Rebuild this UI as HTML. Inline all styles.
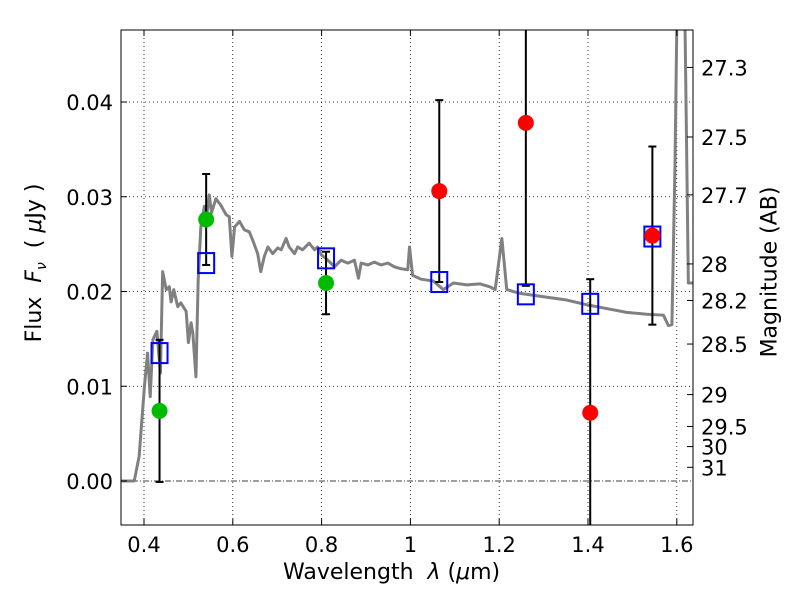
<!DOCTYPE html>
<html><head><meta charset="utf-8"><style>
body{margin:0;background:#fff;}
svg text{font-family:"DejaVu Sans","Liberation Sans",sans-serif;fill:#000;}
</style></head><body>
<svg id="chart" width="800" height="600" xmlns="http://www.w3.org/2000/svg"></svg>
<script>
const xTicks=[0.4,0.6,0.8,1,1.2,1.4,1.6];
const xTickLabels=["0.4","0.6","0.8","1","1.2","1.4","1.6"];
const yTicks=[0,0.01,0.02,0.03,0.04];
const yTickLabels=["0.00","0.01","0.02","0.03","0.04"];
const magTicks=[27.3,27.5,27.7,28,28.2,28.5,29,29.5,30,31];
const magLabels=["27.3","27.5","27.7","28","28.2","28.5","29","29.5","30","31"];
const sedWave=[0.348,0.378,0.389,0.401,0.408,0.414,0.420,0.429,0.437,0.442,0.450,0.457,0.461,0.467,0.476,0.483,0.495,0.500,0.506,0.510,0.517,0.522,0.528,0.536,0.542,0.547,0.552,0.562,0.573,0.585,0.592,0.598,0.604,0.615,0.626,0.637,0.645,0.656,0.663,0.671,0.679,0.690,0.701,0.709,0.720,0.727,0.739,0.746,0.757,0.772,0.784,0.791,0.799,0.814,0.829,0.844,0.859,0.874,0.883,0.889,0.904,0.919,0.934,0.949,0.964,0.979,0.994,0.998,1.005,1.024,1.052,1.074,1.097,1.127,1.157,1.179,1.191,1.206,1.217,1.247,1.292,1.352,1.397,1.442,1.487,1.532,1.570,1.581,1.589,1.596,1.600,1.604,1.614,1.618,1.626,1.640];
const sedFlux=[0,0,0.0026,0.0100,0.0135,0.0089,0.0149,0.0158,0.0114,0.0221,0.0202,0.0205,0.0189,0.0202,0.0184,0.0188,0.0179,0.0146,0.0167,0.0156,0.0110,0.0212,0.0268,0.0290,0.0283,0.0302,0.0283,0.0298,0.0291,0.0281,0.0279,0.0237,0.0268,0.0274,0.0265,0.0263,0.0254,0.0240,0.0221,0.0237,0.0247,0.0240,0.0246,0.0244,0.0256,0.0247,0.0240,0.0247,0.0244,0.0251,0.0244,0.0247,0.0239,0.0233,0.0226,0.0233,0.0230,0.0233,0.0214,0.0230,0.0228,0.0231,0.0228,0.0230,0.0226,0.0224,0.0223,0.0247,0.0217,0.0213,0.0211,0.0202,0.0209,0.0207,0.0208,0.0205,0.0202,0.0256,0.0202,0.0198,0.0195,0.0191,0.0186,0.0182,0.0178,0.0176,0.0175,0.0164,0.0165,0.0335,0.0480,0.060,0.060,0.0500,0.0209,0.0209];
const modelWave=[0.435,0.54,0.81,1.065,1.26,1.405,1.545];
const modelFlux=[0.0135,0.0230,0.0235,0.0210,0.0197,0.0187,0.0258];
const obsWave=[0.435,0.54,0.81,1.065,1.26,1.405,1.545];
const obsFlux=[0.0074,0.0276,0.0209,0.0306,0.0378,0.0072,0.0259];
const obsErr=[0.0075,0.0048,0.0033,0.0096,0.0172,0.0141,0.0094];
const obsColor=["#00bb00","#00bb00","#00bb00","#ff0000","#ff0000","#ff0000","#ff0000"];

const L=121,R=693,T=30,B=525;
const xS=v=>144+(v-0.4)*444;
const yS=v=>481-v*9475;
const NS="http://www.w3.org/2000/svg";
const svg=document.getElementById('chart');
function mk(tag,attrs,parent){const e=document.createElementNS(NS,tag);for(const k in attrs)e.setAttribute(k,attrs[k]);(parent||svg).appendChild(e);return e;}
const defs=mk('defs',{});const cp=mk('clipPath',{id:'clip'},defs);mk('rect',{x:L,y:T,width:R-L,height:B-T},cp);
const plot=mk('g',{'clip-path':'url(#clip)'});


xTicks.forEach(v=>{const l=mk('line',{x1:xS(v),x2:xS(v),y1:T,y2:B,stroke:'#000','stroke-width':0.8,'stroke-dasharray':'1,3'},plot);

});
yTicks.forEach(v=>{if(v===0)return;const l=mk('line',{x1:L,x2:R,y1:yS(v),y2:yS(v),stroke:'#000','stroke-width':0.8,'stroke-dasharray':'1,3'},plot);

});
const zl=mk('line',{x1:L,x2:R,y1:yS(0),y2:yS(0),stroke:'#000','stroke-width':0.8,'stroke-dasharray':'6,2,1,2'},plot);


const sed=mk('polyline',{points:sedWave.map((w,i)=>xS(w)+','+yS(sedFlux[i])).join(' '),fill:'none',stroke:'#808080','stroke-width':3,'stroke-linejoin':'round'},plot);


obsWave.forEach((w,i)=>{const x=xS(w),y1=yS(obsFlux[i]+obsErr[i]),y2=yS(obsFlux[i]-obsErr[i]);
const g=mk('g',{},plot);


mk('line',{x1:x,x2:x,y1:y1,y2:y2,stroke:'#000','stroke-width':2},g);
mk('line',{x1:x-4,x2:x+4,y1:y1,y2:y1,stroke:'#000','stroke-width':2},g);
mk('line',{x1:x-4,x2:x+4,y1:y2,y2:y2,stroke:'#000','stroke-width':2},g);});
modelWave.forEach((w,i)=>{const r=mk('rect',{x:xS(w)-8,y:yS(modelFlux[i])-10,width:16,height:20,fill:'none',stroke:'#0000ff','stroke-width':2},plot);

});
obsWave.forEach((w,i)=>{const c=mk('circle',{cx:xS(w),cy:yS(obsFlux[i]),r:8,fill:obsColor[i]},plot);

});
const fr=mk('rect',{x:L,y:T,width:R-L,height:B-T,fill:'none',stroke:'#000','stroke-width':1});


xTicks.forEach((v,i)=>{const x=xS(v);mk('line',{x1:x,x2:x,y1:B,y2:B-6,stroke:'#000'});mk('line',{x1:x,x2:x,y1:T,y2:T+6,stroke:'#000'});
const t=mk('text',{x:x,y:B+27,'text-anchor':'middle','font-size':21});t.textContent=xTickLabels[i];

});
yTicks.forEach((v,i)=>{const y=yS(v);mk('line',{x1:L,x2:L+6,y1:y,y2:y,stroke:'#000'});
const t=mk('text',{x:L-8,y:y+8,'text-anchor':'end','font-size':21});t.textContent=yTickLabels[i];

});
magTicks.forEach((m,i)=>{const y=yS(Math.pow(10,(23.9-m)/2.5));mk('line',{x1:R,x2:R-6,y1:y,y2:y,stroke:'#000'});
const t=mk('text',{x:R+8,y:y+8,'font-size':21});t.textContent=magLabels[i];

});
</script>
<div style="position:absolute;left:283px;top:560px;font:22px 'DejaVu Sans','Liberation Sans',sans-serif;white-space:nowrap">Wavelength&nbsp; <i>λ</i> (<i>μ</i>m)</div>
<div style="position:absolute;left:36px;top:263px;transform:translate(-50%,-50%) rotate(-90deg);font:22px 'DejaVu Sans','Liberation Sans',sans-serif;white-space:nowrap">Flux&nbsp; <i>F<sub style="font-size:14px">ν</sub></i>&nbsp; ( <i>μ</i>Jy )</div>
<div style="position:absolute;left:770px;top:272px;transform:translate(-50%,-50%) rotate(-90deg);font:22px 'DejaVu Sans','Liberation Sans',sans-serif;white-space:nowrap">Magnitude (AB)</div>
</body></html>
